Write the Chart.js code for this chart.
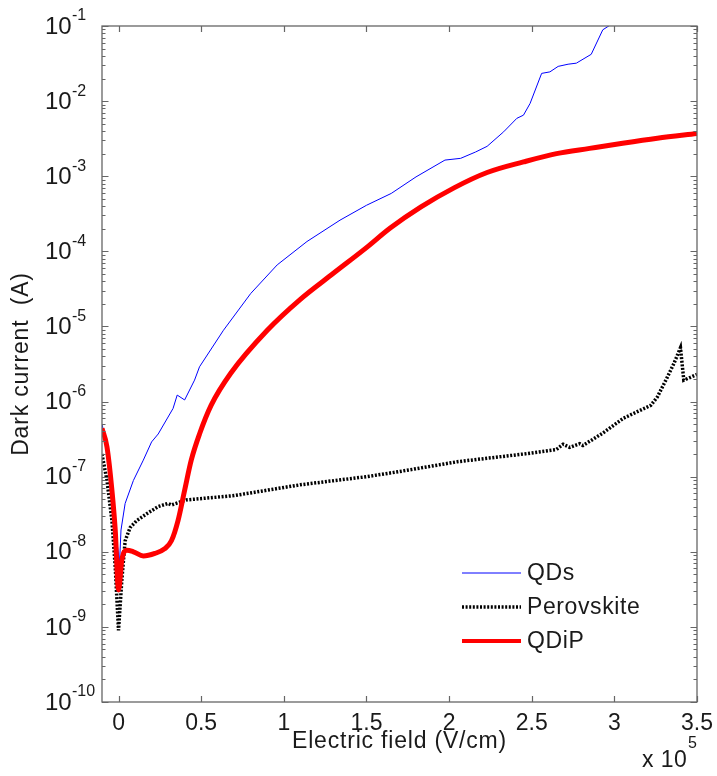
<!DOCTYPE html>
<html>
<head>
<meta charset="utf-8">
<script src="https://cdn.jsdelivr.net/npm/chart.js@4.4.1/dist/chart.umd.min.js"></script>
<style>
  html, body { margin:0; padding:0; background:#fff; }
  #chart { display:block; }
</style>
</head>
<body>
<canvas id="chart" width="717" height="776"></canvas>
<script>
// DATA  (x in units of 1e5 V/cm, current in A)
const qdsX = [-0.1,-0.07,-0.04,-0.02,0.006,0.015,0.04,0.09,0.15,0.20,0.24,0.33,0.355,0.40,0.46,0.49,0.635,0.80,0.96,1.14,1.34,1.50,1.65,1.80,1.975,2.07,2.16,2.23,2.33,2.41,2.45,2.49,2.56,2.61,2.66,2.72,2.77,2.86,2.93,2.975,3.0];
const qdsY = [5.0e-7,2.6e-7,7.1e-8,2.1e-8,7.1e-9,1.95e-8,4.4e-8,8.9e-8,1.66e-7,2.9e-7,3.7e-7,8.1e-7,1.22e-6,1.05e-6,1.93e-6,2.9e-6,8.9e-6,2.75e-5,6.6e-5,1.35e-4,2.6e-4,4.1e-4,5.9e-4,9.8e-4,1.64e-3,1.73e-3,2.1e-3,2.5e-3,3.9e-3,5.9e-3,6.5e-3,9.3e-3,2.34e-2,2.45e-2,2.9e-2,3.1e-2,3.2e-2,4.2e-2,8.9e-2,0.103,0.112];

const perX = [-0.1,-0.07,-0.04,-0.02,0.0,0.02,0.04,0.07,0.11,0.17,0.24,0.30,0.32,0.41,0.70,1.10,1.50,1.70,2.05,2.45,2.65,2.69,2.73,2.79,2.81,2.93,3.055,3.22,3.26,3.32,3.36,3.40,3.42,3.46,3.50];
const perY = [2.0e-7,8.9e-8,2.6e-8,6.3e-9,9.0e-10,4.2e-9,1.4e-8,2.1e-8,2.6e-8,3.2e-8,4.0e-8,4.4e-8,4.2e-8,4.9e-8,5.6e-8,7.8e-8,1.0e-7,1.17e-7,1.58e-7,2.0e-7,2.3e-7,2.7e-7,2.45e-7,2.75e-7,2.6e-7,3.8e-7,6.0e-7,8.9e-7,1.15e-6,2.1e-6,3.2e-6,5.2e-6,1.93e-6,2.1e-6,2.3e-6];

const qdipX = [-0.1,-0.07,-0.04,-0.02,0.0,0.02,0.05,0.09,0.15,0.22,0.28,0.32,0.36,0.40,0.44,0.49,0.56,0.68,0.90,1.10,1.30,1.50,1.644,1.83,2.03,2.23,2.45,2.65,2.85,3.05,3.26,3.50];
const qdipY = [4.4e-7,2.5e-7,6.6e-8,1.95e-8,3.1e-9,7.8e-9,1.05e-8,1.0e-8,8.8e-9,9.5e-9,1.1e-8,1.4e-8,2.6e-8,6.6e-8,1.66e-7,3.7e-7,8.9e-7,2.4e-6,8.9e-6,2.3e-5,5.1e-5,1.12e-4,2.04e-4,3.9e-4,7.0e-4,1.12e-3,1.55e-3,2.0e-3,2.35e-3,2.75e-3,3.2e-3,3.7e-3];

const xTicks = [0,0.5,1,1.5,2,2.5,3,3.5];
const xTickLabels = ["0","0.5","1","1.5","2","2.5","3","3.5"];
const yDecades = [-10,-9,-8,-7,-6,-5,-4,-3,-2,-1];
const seriesNames = ["QDs","Perovskite","QDiP"];

const FONT = '"Liberation Sans", Arial, sans-serif';
const AXIS = "#666";
const TXT = "#1a1a1a";

function pts(xs,ys){ return xs.map((x,i)=>({x:x,y:ys[i]})); }

// AXES + LABELS (matlab style, ticks inside, boxed)
const frame = {
  id:"frame",
  afterDatasetsDraw(chart){
    const c = chart.ctx, a = chart.chartArea;
    const xs = chart.scales.x, ys = chart.scales.y;
    c.save();
    c.strokeStyle = AXIS;
    c.lineWidth = 1.3;
    c.strokeRect(a.left, a.top, a.right-a.left, a.bottom-a.top);

    c.lineWidth = 1.2;
    c.beginPath();
    xTicks.forEach(v=>{
      const p = Math.round(xs.getPixelForValue(v))+0.5;
      c.moveTo(p,a.bottom); c.lineTo(p,a.bottom-6);
      c.moveTo(p,a.top); c.lineTo(p,a.top+6);
    });
    yDecades.forEach(d=>{
      for(let m=1;m<=9;m++){
        const v = m*Math.pow(10,d);
        if(v>0.1000001) continue;
        const p = Math.round(ys.getPixelForValue(v))+0.5;
        const len = m===1 ? 6.5 : 3.5;
        c.moveTo(a.left,p); c.lineTo(a.left+len,p);
        c.moveTo(a.right,p); c.lineTo(a.right-len,p);
      }
    });
    c.stroke();

    c.fillStyle = TXT;
    c.textBaseline = "middle";
    // x tick labels
    c.font = "23px "+FONT;
    c.textAlign = "center";
    xTicks.forEach((v,i)=>{
      c.fillText(xTickLabels[i], xs.getPixelForValue(v), a.bottom+22);
    });
    // y tick labels 10^n
    yDecades.forEach(d=>{
      const p = ys.getPixelForValue(Math.pow(10,d));
      c.textAlign = "left";
      c.font = "24px "+FONT;
      c.fillText("10", 45, p+1);
      c.font = "16px "+FONT;
      c.fillText(String(d), 72, p-10);
    });
    // x title + multiplier
    c.letterSpacing = "0.8px";
    c.font = "23px "+FONT;
    c.textAlign = "center";
    c.fillText("Electric field (V/cm)", (a.left+a.right)/2, a.bottom+40);
    c.textAlign = "left";
    c.letterSpacing = "0.4px";
    c.fillText("x 10", 642, a.bottom+59);
    c.letterSpacing = "0px";
    c.font = "16px "+FONT;
    c.fillText("5", 688, a.bottom+42);
    // y title
    c.save();
    c.translate(22,(a.top+a.bottom)/2);
    c.rotate(-Math.PI/2);
    c.textAlign = "center";
    c.letterSpacing = "0.8px";
    c.font = "23px "+FONT;
    c.fillText("Dark current  (A)",0,0);
    c.restore();

    // legend
    const ly = [573,607,641];
    chart.data.datasets.forEach((ds,i)=>{
      c.save();
      c.strokeStyle = ds.borderColor;
      c.lineWidth = Math.min(ds.borderWidth,4);
      c.setLineDash(ds.borderDash||[]);
      c.beginPath();
      c.moveTo(462,ly[i]); c.lineTo(521,ly[i]);
      c.stroke();
      c.restore();
      c.font = "23px "+FONT;
      c.letterSpacing = "0.6px";
      c.textAlign = "left";
      c.fillStyle = TXT;
      c.fillText(ds.label, 527, ly[i]+1);
    });
    c.restore();
  }
};

new Chart(document.getElementById("chart"),{
  type:"line",
  data:{
    datasets:[
      {label:seriesNames[0], data:pts(qdsX,qdsY), borderColor:"#0000ff", borderWidth:1, pointRadius:0, tension:0, order:2},
      {label:seriesNames[1], data:pts(perX,perY), borderColor:"#000", borderWidth:3.5, borderDash:[2,1.6], borderCapStyle:"butt", pointRadius:0, tension:0, order:1},
      {label:seriesNames[2], data:pts(qdipX,qdipY), borderColor:"#ff0000", borderWidth:5, pointRadius:0, cubicInterpolationMode:"monotone", order:0}
    ]
  },
  options:{
    responsive:false,
    animation:false,
    devicePixelRatio:1,
    layout:{padding:{left:102,top:26,right:20,bottom:74}},
    plugins:{legend:{display:false}, tooltip:{enabled:false}},
    scales:{
      x:{type:"linear", min:-0.1, max:3.5, display:false},
      y:{type:"logarithmic", min:1e-10, max:1e-1, display:false}
    }
  },
  plugins:[frame]
});
</script>
</body>
</html>
